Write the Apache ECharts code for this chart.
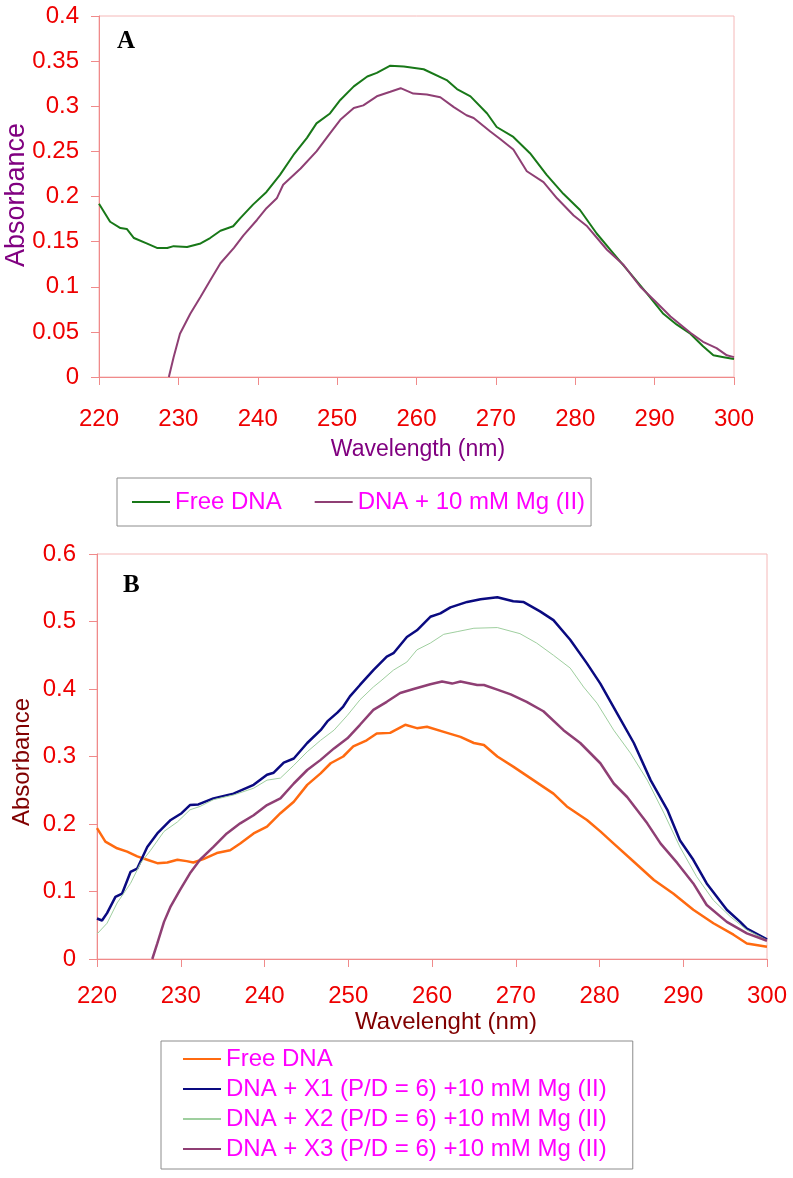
<!DOCTYPE html>
<html>
<head>
<meta charset="utf-8">
<script src="https://cdn.jsdelivr.net/npm/echarts@6/dist/echarts.min.js"></script>
<style>
html,body{margin:0;padding:0;background:#fff;}
#chart{width:793px;height:1178px;}
</style>
</head>
<body>
<div id="chart"></div>
<script>
// ---------- Panel A data ----------
var xTicks = [220, 230, 240, 250, 260, 270, 280, 290, 300];
var wlA_free = [220,221.4,222.7,223.5,224.4,226,227.3,228.6,229.4,231.1,232.8,234,235.3,236.9,237.8,239.4,241.1,242.8,244.5,246.2,247.4,249.1,250.4,252.1,253.8,255,256.7,258.4,260.9,263.8,265.1,266.8,268.9,270.1,272.2,274.3,276.4,278.5,280.6,282.7,284.8,286.9,289,291.1,292.8,294.5,296.1,297.4,298.7,300];
var absA_free = [0.192,0.172,0.165,0.164,0.154,0.148,0.143,0.143,0.145,0.144,0.148,0.154,0.162,0.167,0.176,0.191,0.205,0.224,0.246,0.265,0.281,0.292,0.307,0.322,0.333,0.337,0.345,0.344,0.341,0.329,0.319,0.311,0.292,0.277,0.266,0.248,0.224,0.203,0.185,0.159,0.137,0.115,0.093,0.070,0.058,0.048,0.034,0.024,0.022,0.020];
var wlA_mg = [228.8,229.4,230.2,231.5,232.8,234,235.3,237,238.2,239.9,241.1,242.4,243.2,245.4,247.4,249.1,250.4,252.1,253.3,255,256.7,258,259.6,261.3,263,264.7,266.3,267.2,269.3,270.5,272.2,273.9,276,277.7,279.8,281.5,284,286.1,288.2,290.3,292,294.5,296.1,297.8,299.1,300];
var absA_mg = [0,0.022,0.048,0.070,0.089,0.107,0.126,0.143,0.157,0.174,0.187,0.198,0.213,0.231,0.250,0.270,0.285,0.298,0.301,0.311,0.316,0.320,0.314,0.313,0.310,0.299,0.290,0.287,0.272,0.264,0.252,0.228,0.216,0.198,0.179,0.167,0.141,0.124,0.100,0.082,0.067,0.049,0.039,0.032,0.024,0.022];

// ---------- Panel B data ----------
var wlB_free = [220,221,222.4,223.6,224.8,226,227.2,228.4,229.6,230.7,231.5,232.7,234.3,235.9,237.1,238.7,240.3,241.9,243.5,245.1,246.7,247.9,249.4,250.6,252.2,253.4,255,256.8,258.2,259.4,261.8,263.4,265,266.2,267.8,269.7,272.1,274.5,276.1,278.5,280.1,281.7,284.1,286.5,288.8,291.2,293.6,296,297.6,300];
var absB_free = [0.194,0.174,0.164,0.159,0.152,0.147,0.142,0.143,0.147,0.145,0.143,0.148,0.157,0.161,0.171,0.186,0.196,0.216,0.233,0.258,0.275,0.290,0.300,0.315,0.324,0.334,0.335,0.347,0.342,0.344,0.335,0.329,0.320,0.317,0.300,0.285,0.265,0.245,0.226,0.206,0.189,0.171,0.144,0.117,0.097,0.073,0.053,0.036,0.023,0.018];
var wlB_x1 = [220,220.6,221.2,222.2,223,224,224.8,226,227.2,228.8,230.1,231.1,232.1,233.9,236.3,238.7,240.3,241.1,242.3,243.5,245.1,246.7,247.5,248.7,249.4,250.2,251.4,253,254.6,255.4,257,258.2,259.8,261,262.2,264.2,265.8,267.8,269.7,270.9,272.9,274.5,276.5,278.5,280.1,282.1,284.1,286.1,288.1,289.6,291.2,292.8,295.2,296.8,297.6,300];
var absB_x1 = [0.060,0.057,0.068,0.092,0.097,0.129,0.134,0.166,0.186,0.206,0.216,0.228,0.229,0.238,0.245,0.258,0.273,0.276,0.291,0.297,0.320,0.339,0.352,0.365,0.374,0.389,0.406,0.428,0.448,0.453,0.477,0.487,0.507,0.512,0.521,0.529,0.533,0.536,0.530,0.529,0.515,0.502,0.473,0.438,0.408,0.364,0.320,0.265,0.221,0.176,0.147,0.112,0.073,0.055,0.045,0.029];
var wlB_x2 = [220,221.2,222.4,224,225.2,226.4,228,229.6,231.1,232.3,233.9,236.3,238.7,240.3,241.9,243.5,245.1,246.7,248.3,249.9,251.4,253,253.8,255.4,257,258.2,259.8,261.4,263,265,267.8,270.5,272.5,274.5,276.5,278.1,279.7,281.7,283.7,285.7,287.7,289.6,291.6,293.6,295.6,297.6,300];
var absB_x2 = [0.037,0.053,0.083,0.112,0.142,0.161,0.189,0.203,0.221,0.226,0.236,0.243,0.253,0.265,0.268,0.287,0.307,0.324,0.339,0.361,0.384,0.403,0.411,0.428,0.440,0.458,0.468,0.481,0.485,0.490,0.491,0.482,0.468,0.450,0.431,0.403,0.379,0.339,0.305,0.265,0.216,0.166,0.122,0.087,0.063,0.043,0.028];
var wlB_x3 = [226.6,227.2,228,228.8,229.9,231.1,232.3,233.9,235.5,237.1,238.7,240.3,241.9,243.5,245.1,246.7,248.3,249.9,251.4,253,254.6,256.2,257.8,259.8,261.2,262.4,263.4,265.4,266.2,267.8,269.4,271.3,273.3,275.7,277.7,280.1,281.7,283.3,285.7,287.3,289.3,291.2,292.8,295.2,297.6,300];
var absB_x3 = [0,0.023,0.055,0.078,0.102,0.127,0.147,0.166,0.186,0.201,0.213,0.228,0.238,0.260,0.280,0.295,0.312,0.327,0.347,0.369,0.381,0.394,0.400,0.407,0.411,0.408,0.411,0.406,0.406,0.399,0.392,0.381,0.367,0.339,0.320,0.290,0.260,0.240,0.201,0.171,0.142,0.112,0.080,0.055,0.038,0.027];

var namesA = ['Free DNA', 'DNA + 10 mM Mg (II)'];
var namesB = ['Free DNA ', 'DNA + X1 (P/D = 6) +10 mM Mg (II)', 'DNA + X2 (P/D = 6) +10 mM Mg (II)', 'DNA + X3 (P/D = 6) +10 mM Mg (II)'];

function zip(xs, ys) { return xs.map(function (x, i) { return [x, ys[i]]; }); }

var FONT = 'Liberation Sans, Arial, sans-serif';
var RED = '#ee0000';
var AXIS = '#f08a8a';
var BORDER = '#f5b8b8';

function xAxisCfg(gi, margin) {
  return {
    type: 'value', gridIndex: gi, min: xTicks[0], max: xTicks[xTicks.length - 1], interval: 10,
    axisLine: { show: true, lineStyle: { color: AXIS, width: 1 } },
    axisTick: { show: true, length: 8, lineStyle: { color: AXIS } },
    axisLabel: { color: RED, fontSize: 24, fontFamily: FONT, margin: margin },
    splitLine: { show: false }
  };
}
function yAxisCfg(gi, max, interval, margin) {
  return {
    type: 'value', gridIndex: gi, min: 0, max: max, interval: interval,
    axisLine: { show: true, lineStyle: { color: AXIS, width: 1 } },
    axisTick: { show: true, length: 8, lineStyle: { color: AXIS } },
    axisLabel: { color: RED, fontSize: 24, fontFamily: FONT, margin: margin },
    splitLine: { show: false }
  };
}
function lineSeries(name, xi, data, color, width) {
  return {
    type: 'line', name: name, xAxisIndex: xi, yAxisIndex: xi, data: data,
    showSymbol: false, symbol: 'none', smooth: false,
    lineStyle: { color: color, width: width },
    itemStyle: { color: color },
    emphasis: { disabled: true }
  };
}

var chart = echarts.init(document.getElementById('chart'), null, { renderer: 'canvas' });
chart.setOption({
  animation: false,
  backgroundColor: '#ffffff',
  grid: [
    { left: 99, top: 16, width: 635, height: 361, show: true, borderColor: BORDER, borderWidth: 1, backgroundColor: 'transparent' },
    { left: 97, top: 554, width: 670, height: 405, show: true, borderColor: BORDER, borderWidth: 1, backgroundColor: 'transparent' }
  ],
  xAxis: [xAxisCfg(0, 30), xAxisCfg(1, 25)],
  yAxis: [yAxisCfg(0, 0.4, 0.05, 20), yAxisCfg(1, 0.6, 0.1, 21)],
  legend: [
    {
      data: namesA, orient: 'horizontal', left: 117, top: 478,
      padding: [11, 6, 11, 15], itemGap: 33, itemWidth: 38, itemHeight: 2, icon: 'rect',
      borderColor: '#8c8c8c', borderWidth: 1, selectedMode: false,
      textStyle: { color: '#ff00ff', fontSize: 24, fontFamily: FONT, lineHeight: 26 }
    },
    {
      data: namesB, orient: 'vertical', left: 161, top: 1041,
      padding: [6, 26, 8, 22], itemGap: 6, itemWidth: 38, itemHeight: 2, icon: 'rect',
      borderColor: '#8c8c8c', borderWidth: 1, selectedMode: false,
      textStyle: { color: '#ff00ff', fontSize: 24, fontFamily: FONT, lineHeight: 24 }
    }
  ],
  series: [
    lineSeries(namesA[0], 0, zip(wlA_free, absA_free), '#187818', 2),
    lineSeries(namesA[1], 0, zip(wlA_mg, absA_mg), '#8f3f74', 2),
    lineSeries(namesB[0], 1, zip(wlB_free, absB_free), '#ff6a10', 2.5),
    lineSeries(namesB[1], 1, zip(wlB_x1, absB_x1), '#0a0a80', 2.5),
    lineSeries(namesB[2], 1, zip(wlB_x2, absB_x2), '#9fcf9f', 1),
    lineSeries(namesB[3], 1, zip(wlB_x3, absB_x3), '#8f3f74', 2.5)
  ],
  graphic: [
    { type: 'text', x: 117, y: 42, style: { text: 'A', font: 'bold 25px "Liberation Serif", "Times New Roman", serif', fill: '#000', textAlign: 'left', align: 'left', textVerticalAlign: 'middle', verticalAlign: 'middle' } },
    { type: 'text', x: 123, y: 586, style: { text: 'B', font: 'bold 25px "Liberation Serif", "Times New Roman", serif', fill: '#000', textAlign: 'left', align: 'left', textVerticalAlign: 'middle', verticalAlign: 'middle' } },
    { type: 'text', x: 17, y: 195, rotation: Math.PI / 2, style: { text: 'Absorbance', font: '27px "Liberation Sans", Arial, sans-serif', fill: '#800080', textAlign: 'center', align: 'center', textVerticalAlign: 'middle', verticalAlign: 'middle' } },
    { type: 'text', x: 22, y: 762, rotation: Math.PI / 2, style: { text: 'Absorbance', font: '24px "Liberation Sans", Arial, sans-serif', fill: '#800000', textAlign: 'center', align: 'center', textVerticalAlign: 'middle', verticalAlign: 'middle' } },
    { type: 'text', x: 418, y: 450, style: { text: 'Wavelength (nm)', font: '23px "Liberation Sans", Arial, sans-serif', fill: '#800080', textAlign: 'center', align: 'center', textVerticalAlign: 'middle', verticalAlign: 'middle' } },
    { type: 'text', x: 446, y: 1022, style: { text: 'Wavelenght (nm)', font: '24px "Liberation Sans", Arial, sans-serif', fill: '#800000', textAlign: 'center', align: 'center', textVerticalAlign: 'middle', verticalAlign: 'middle' } }
  ]
});
</script>
</body>
</html>
